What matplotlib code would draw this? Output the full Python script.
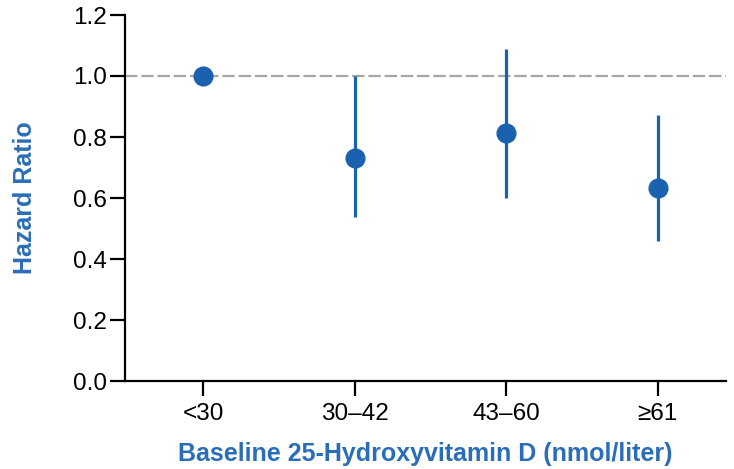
import matplotlib.pyplot as plt

# Hazard ratio by baseline vitamin D category
categories = ["<30", "30\u201342", "43\u201360", "\u226561"]
hazard_ratio = [1.0, 0.73, 0.814, 0.632]
ci_low = [1.0, 0.537, 0.601, 0.460]
ci_high = [1.0, 1.0, 1.087, 0.871]

plt.rcParams["font.family"] = ["Liberation Sans", "DejaVu Sans"]

blue = "#1a62b0"
label_blue = "#2a6eb8"

fig = plt.figure(figsize=(7.34, 4.69), dpi=100)
ax = fig.add_axes([125 / 734, 1 - 381 / 469, 601 / 734, 366 / 469])

x = list(range(len(categories)))
ax.axhline(1.0, color="#a6a6a6", lw=1.6, ls=(0, (5.6, 1.7)), zorder=1)

yerr = [[h - lo for h, lo in zip(hazard_ratio, ci_low)],
        [hi - h for h, hi in zip(hazard_ratio, ci_high)]]
ax.errorbar(x, hazard_ratio, yerr=yerr, fmt="o", color=blue, ms=13.5,
            elinewidth=2.3, capsize=0, zorder=3)

ax.set_xlim(-0.515, 3.45)
ax.set_ylim(0, 1.2)
yticks = [0, 0.2, 0.4, 0.6, 0.8, 1.0, 1.2]
ax.set_yticks(yticks)
ax.set_yticklabels([f"{v:.1f}" for v in yticks])
ax.set_xticks(x)
ax.set_xticklabels(categories)

for side in ["top", "right"]:
    ax.spines[side].set_visible(False)
for side in ["left", "bottom"]:
    ax.spines[side].set_linewidth(1.6)
ax.tick_params(axis="both", length=11, width=1.6, labelsize=17.5, pad=2)
ax.tick_params(axis="x", pad=5)

ax.set_ylabel("Hazard Ratio", color=label_blue, fontsize=18, fontweight="bold", labelpad=26)
ax.set_xlabel("Baseline 25-Hydroxyvitamin D (nmol/liter)", color=label_blue,
              fontsize=18, fontweight="bold", labelpad=12)

fig.savefig("out.png", dpi=100)
